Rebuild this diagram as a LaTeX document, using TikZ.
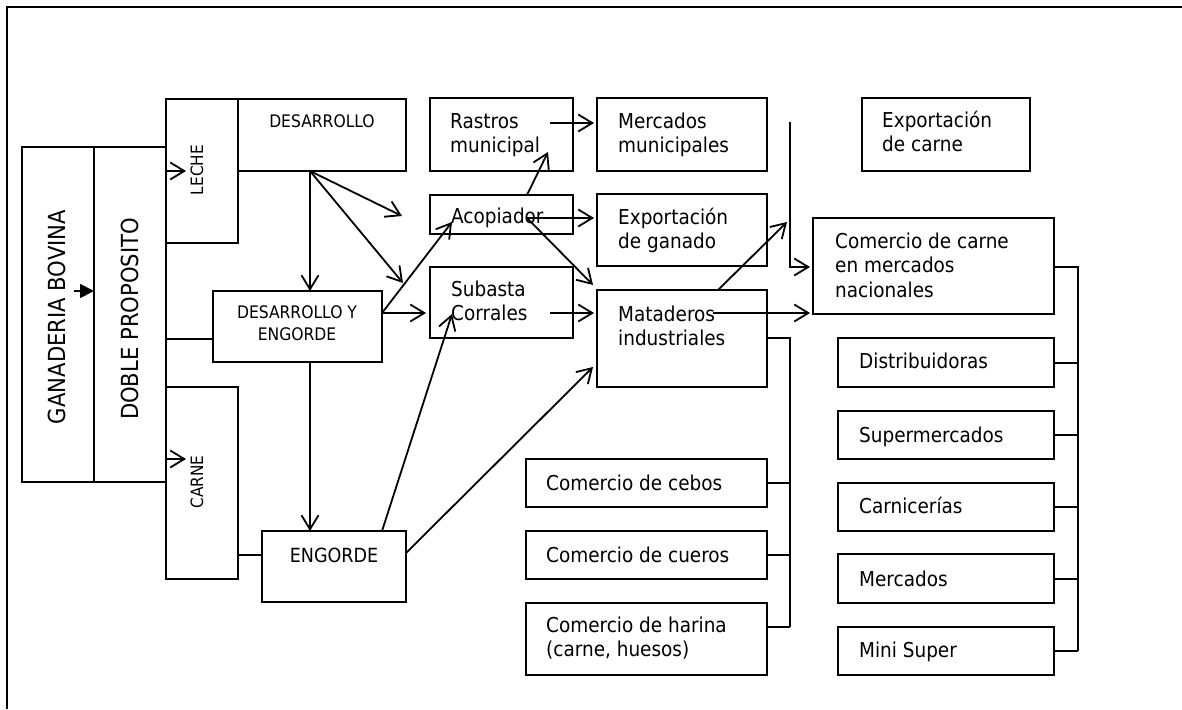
\documentclass[tikz,border=0pt]{standalone}
\usepackage{fontspec}
\setmainfont{DejaVu Sans Condensed}
\usetikzlibrary{arrows.meta,calc}
\newcommand\bx[5]{\node[box, minimum width={(#4-#2)*1pt}, minimum height={(#5-#3)*1pt}] (#1) at ({(#2+#4)/2},{(#3+#5)/2}) {};}
\begin{document}
\begin{tikzpicture}[x=1pt,y=-1pt,
  box/.style={draw, line width=2.2pt, inner sep=0pt, outer sep=0pt},
  arr/.style={line width=1.8pt, -{Straight Barb[length=14pt,width=17pt]}},
  ln/.style={line width=2pt},
  txt/.style={inner sep=0pt, anchor=base west, align=left, font=\fontsize{20.5}{24.5}\selectfont},
  capsm/.style={inner sep=0pt, align=center, font=\fontsize{17.3}{22}\selectfont},
  capvert/.style={inner sep=0pt, rotate=90, font=\fontsize{17}{20}\selectfont},
  capbig/.style={inner sep=0pt, rotate=90, font=\fontsize{23.5}{26}\selectfont},
]
\useasboundingbox (0,0) rectangle (1182,709);
% frame
\coordinate (f0) at (7,7);
\coordinate (f1) at (1182,7);
\coordinate (f2) at (7,709);
\draw[line width=2.4pt] (f2) -- (f0) -- (f1);
% boxes
\bx{gan}{22}{147}{94}{482}
\bx{doble}{94}{147}{166}{482}
\bx{leche}{166}{99}{238}{243}
\bx{desa}{238}{99}{406}{171}
\bx{dye}{213}{291}{382}{362}
\bx{carne}{166}{387}{238}{579}
\bx{engorde}{262}{531}{406}{602}
\bx{rastros}{430}{98}{573}{171}
\bx{acop}{430}{195}{573}{234}
\bx{subasta}{430}{267}{573}{338}
\bx{mercmun}{597}{98}{767}{171}
\bx{expgan}{597}{194}{767}{266}
\bx{matad}{597}{290}{767}{387}
\bx{expcarne}{862}{98}{1030}{171}
\bx{comcarne}{813}{218}{1054}{314}
\bx{distrib}{838}{338}{1054}{387}
\bx{super}{838}{411}{1054}{459}
\bx{carnic}{838}{483}{1054}{531}
\bx{merc}{838}{554}{1054}{603}
\bx{mini}{838}{627}{1054}{675}
\bx{cebos}{526}{459}{767}{507}
\bx{cueros}{526}{531}{767}{579}
\bx{harina}{526}{603}{767}{675}
% texts (multi-line nodes are anchored at the baseline of their last line)
\node[capbig] (tgan) at (57,317) {GANADERIA BOVINA};
\node[capbig] (tdoble) at (130,319) {DOBLE PROPOSITO};
\node[capvert] (tleche) at (197,170) {LECHE};
\node[capvert] (tcarne) at (197,482) {CARNE};
\node[capsm] (tdesa) at (322,121) {DESARROLLO};
\node[capsm] (tdye) at (297,323) {DESARROLLO Y\\ENGORDE};
\node[inner sep=0pt, font=\fontsize{19.5}{22}\selectfont] (teng) at (334,555) {ENGORDE};
\node[txt] (trast) at (450,152.5) {Rastros\\municipal};
\node[txt] (tmercmun) at (618,152.5) {Mercados\\municipales};
\node[txt] (tacop) at (451,223) {Acopiador};
\node[txt] (texpgan) at (618,248.5) {Exportación\\de ganado};
\node[txt] (tsub) at (451,320.5) {Subasta\\Corrales};
\node[txt] (tmat) at (618,345.5) {Mataderos\\industriales};
\node[txt] (texpc) at (882,151.5) {Exportación\\de carne};
\node[txt] (tcomc) at (835,297) {Comercio de carne\\en mercados\\nacionales};
\node[txt] (tdist) at (859,368) {Distribuidoras};
\node[txt] (tsup) at (859,442) {Supermercados};
\node[txt] (tcarn) at (859,513) {Carnicerías};
\node[txt] (tmerc) at (859,586) {Mercados};
\node[txt] (tmini) at (859,657) {Mini Super};
\node[txt] (tcebos) at (546,490) {Comercio de cebos};
\node[txt] (tcueros) at (546,562) {Comercio de cueros};
\node[txt] (tharina) at (546,656.5) {Comercio de harina\\(carne, huesos)};
% connectors
\coordinate (g1) at (74,291);
\draw[line width=1.8pt,-{Triangle[length=14pt,width=14pt]}] (g1) -- (g1 -| doble.west);
\coordinate (lt) at (186,171);
\draw[arr] (doble.east |- lt) -- (lt);
\coordinate (dl) at (213,339);
\draw[ln] (doble.east |- dl) -- (dl);
\coordinate (ct) at (186,459);
\draw[arr] (doble.east |- ct) -- (ct);
\coordinate (ce) at (238,555);
\draw[ln] (ce) -- (ce -| engorde.west);
\coordinate (d0) at (310,171);
\draw[arr] (d0) -- (d0 |- dye.north);
\coordinate (a1) at (402,216);
\draw[arr] (d0) -- (a1);
\coordinate (a2) at (403,283);
\draw[arr] (d0) -- (a2);
\coordinate (e0) at (310,362);
\draw[arr] (e0) -- (e0 |- engorde.north);
\coordinate (y0) at (382,313);
\coordinate (y1) at (452,222);
\draw[arr] (y0) -- (y1);
\coordinate (y2) at (426,313);
\draw[arr] (y0) -- (y2);
\coordinate (n0) at (382,531);
\coordinate (n1) at (452,314);
\draw[arr] (n0) -- (n1);
\coordinate (n2) at (406,553);
\coordinate (n3) at (593,367);
\draw[arr] (n2) -- (n3);
\coordinate (r0) at (550,123);
\coordinate (r1) at (594,123);
\draw[arr] (r0) -- (r1);
\coordinate (c0) at (527,195);
\coordinate (c1) at (548,152);
\draw[arr] (c0) -- (c1);
\coordinate (c2) at (527,218);
\coordinate (c3) at (594,218);
\draw[arr] (c2) -- (c3);
\coordinate (c4) at (593,285);
\draw[arr] (c2) -- (c4);
\coordinate (s0) at (550,313);
\coordinate (s1) at (594,313);
\draw[arr] (s0) -- (s1);
\coordinate (m0) at (713,313);
\coordinate (m1) at (810,313);
\draw[arr] (m0) -- (m1);
\coordinate (m2) at (718,290);
\coordinate (m3) at (787,222);
\draw[arr] (m2) -- (m3);
\coordinate (v0) at (790,122);
\coordinate (v1) at (790,267);
\coordinate (v2) at (810,267);
\draw[arr] (v0) -- (v1) -- (v2);
% left bracket
\coordinate (b0) at (790,338);
\coordinate (b1) at (790,627);
\draw[ln] (b0 -| matad.east) -- (b0) -- (b1);
\draw[ln] (cebos.east) -- (cebos.east -| b0);
\draw[ln] (cueros.east) -- (cueros.east -| b0);
\draw[ln] (b1 -| harina.east) -- (b1);
% right bracket
\coordinate (k0) at (1078,267);
\draw[ln] (k0 -| comcarne.east) -- (k0) -- (k0 |- mini.east);
\draw[ln] (distrib.east) -- (distrib.east -| k0);
\draw[ln] (super.east) -- (super.east -| k0);
\draw[ln] (carnic.east) -- (carnic.east -| k0);
\draw[ln] (merc.east) -- (merc.east -| k0);
\draw[ln] (mini.east) -- (mini.east -| k0);
\end{tikzpicture}
\end{document}
